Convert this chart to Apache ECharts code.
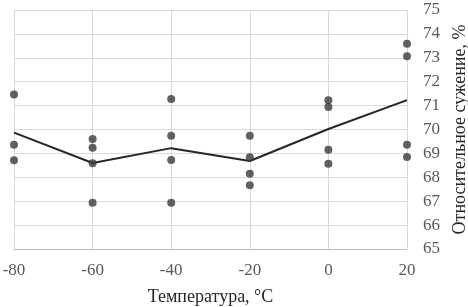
<!DOCTYPE html>
<html>
<head>
<meta charset="utf-8">
<script src="https://cdn.jsdelivr.net/npm/echarts@6/dist/echarts.min.js"></script>
<style>
  html, body { margin: 0; padding: 0; background: #fff; }
  #chart { width: 468px; height: 307px; }
</style>
</head>
<body>
<div id="chart"></div>
<script>
// температура, °C
const temperatures = [-80, -60, -40, -20, 0, 20];

// отдельные измерения относительного сужения, %
const samples = [
  [-80, 71.46], [-80, 69.36], [-80, 68.71],
  [-60, 69.60], [-60, 69.24], [-60, 68.59], [-60, 66.93],
  [-40, 71.28], [-40, 69.74], [-40, 68.72], [-40, 66.93],
  [-20, 69.74], [-20, 68.84], [-20, 68.15], [-20, 67.67],
  [0, 71.22], [0, 70.94], [0, 69.15], [0, 68.57],
  [20, 73.59], [20, 73.07], [20, 69.36], [20, 68.85]
];

// средние значения (линия)
const meanValues = [69.87, 68.60, 69.22, 68.68, 70.02, 71.23];

const chart = echarts.init(document.getElementById('chart'));

const serif = '"Liberation Serif", "DejaVu Serif", serif';

chart.setOption({
  animation: false,
  grid: {
    left: 14,
    right: 61,
    top: 10,
    bottom: 58,
    containLabel: false,
    outerBoundsMode: 'none'
  },
  xAxis: {
    type: 'value',
    min: -80,
    max: 20,
    interval: 20,
    name: 'Температура, °C',
    nameLocation: 'middle',
    nameGap: 39,
    nameTextStyle: { color: '#262626', fontSize: 18, fontFamily: serif },
    axisLine: { show: true, onZero: false, lineStyle: { color: '#bfbfbf' } },
    axisTick: { show: false },
    axisLabel: { color: '#595959', fontSize: 17, fontFamily: serif, margin: 13 },
    splitLine: { show: true, lineStyle: { color: '#d9d9d9' } }
  },
  yAxis: {
    type: 'value',
    position: 'right',
    min: 65,
    max: 75,
    interval: 1,
    name: 'Относительное сужение, %',
    nameLocation: 'middle',
    nameGap: 38,
    nameRotate: 90,
    nameTextStyle: { color: '#262626', fontSize: 18, fontFamily: serif, padding: [0, 0, 10, 0] },
    axisLine: { show: false },
    axisTick: { show: false },
    axisLabel: { color: '#595959', fontSize: 17, fontFamily: serif, margin: 16 },
    splitLine: { show: true, lineStyle: { color: '#d9d9d9' } }
  },
  series: [
    {
      type: 'scatter',
      data: samples,
      symbol: 'circle',
      symbolSize: 8,
      itemStyle: { color: '#3a3a3a' },
      z: 3
    },
    {
      type: 'line',
      data: temperatures.map((t, i) => [t, meanValues[i]]),
      symbol: 'none',
      lineStyle: { color: '#262626', width: 2 },
      z: 2
    }
  ]
});
</script>
</body>
</html>
